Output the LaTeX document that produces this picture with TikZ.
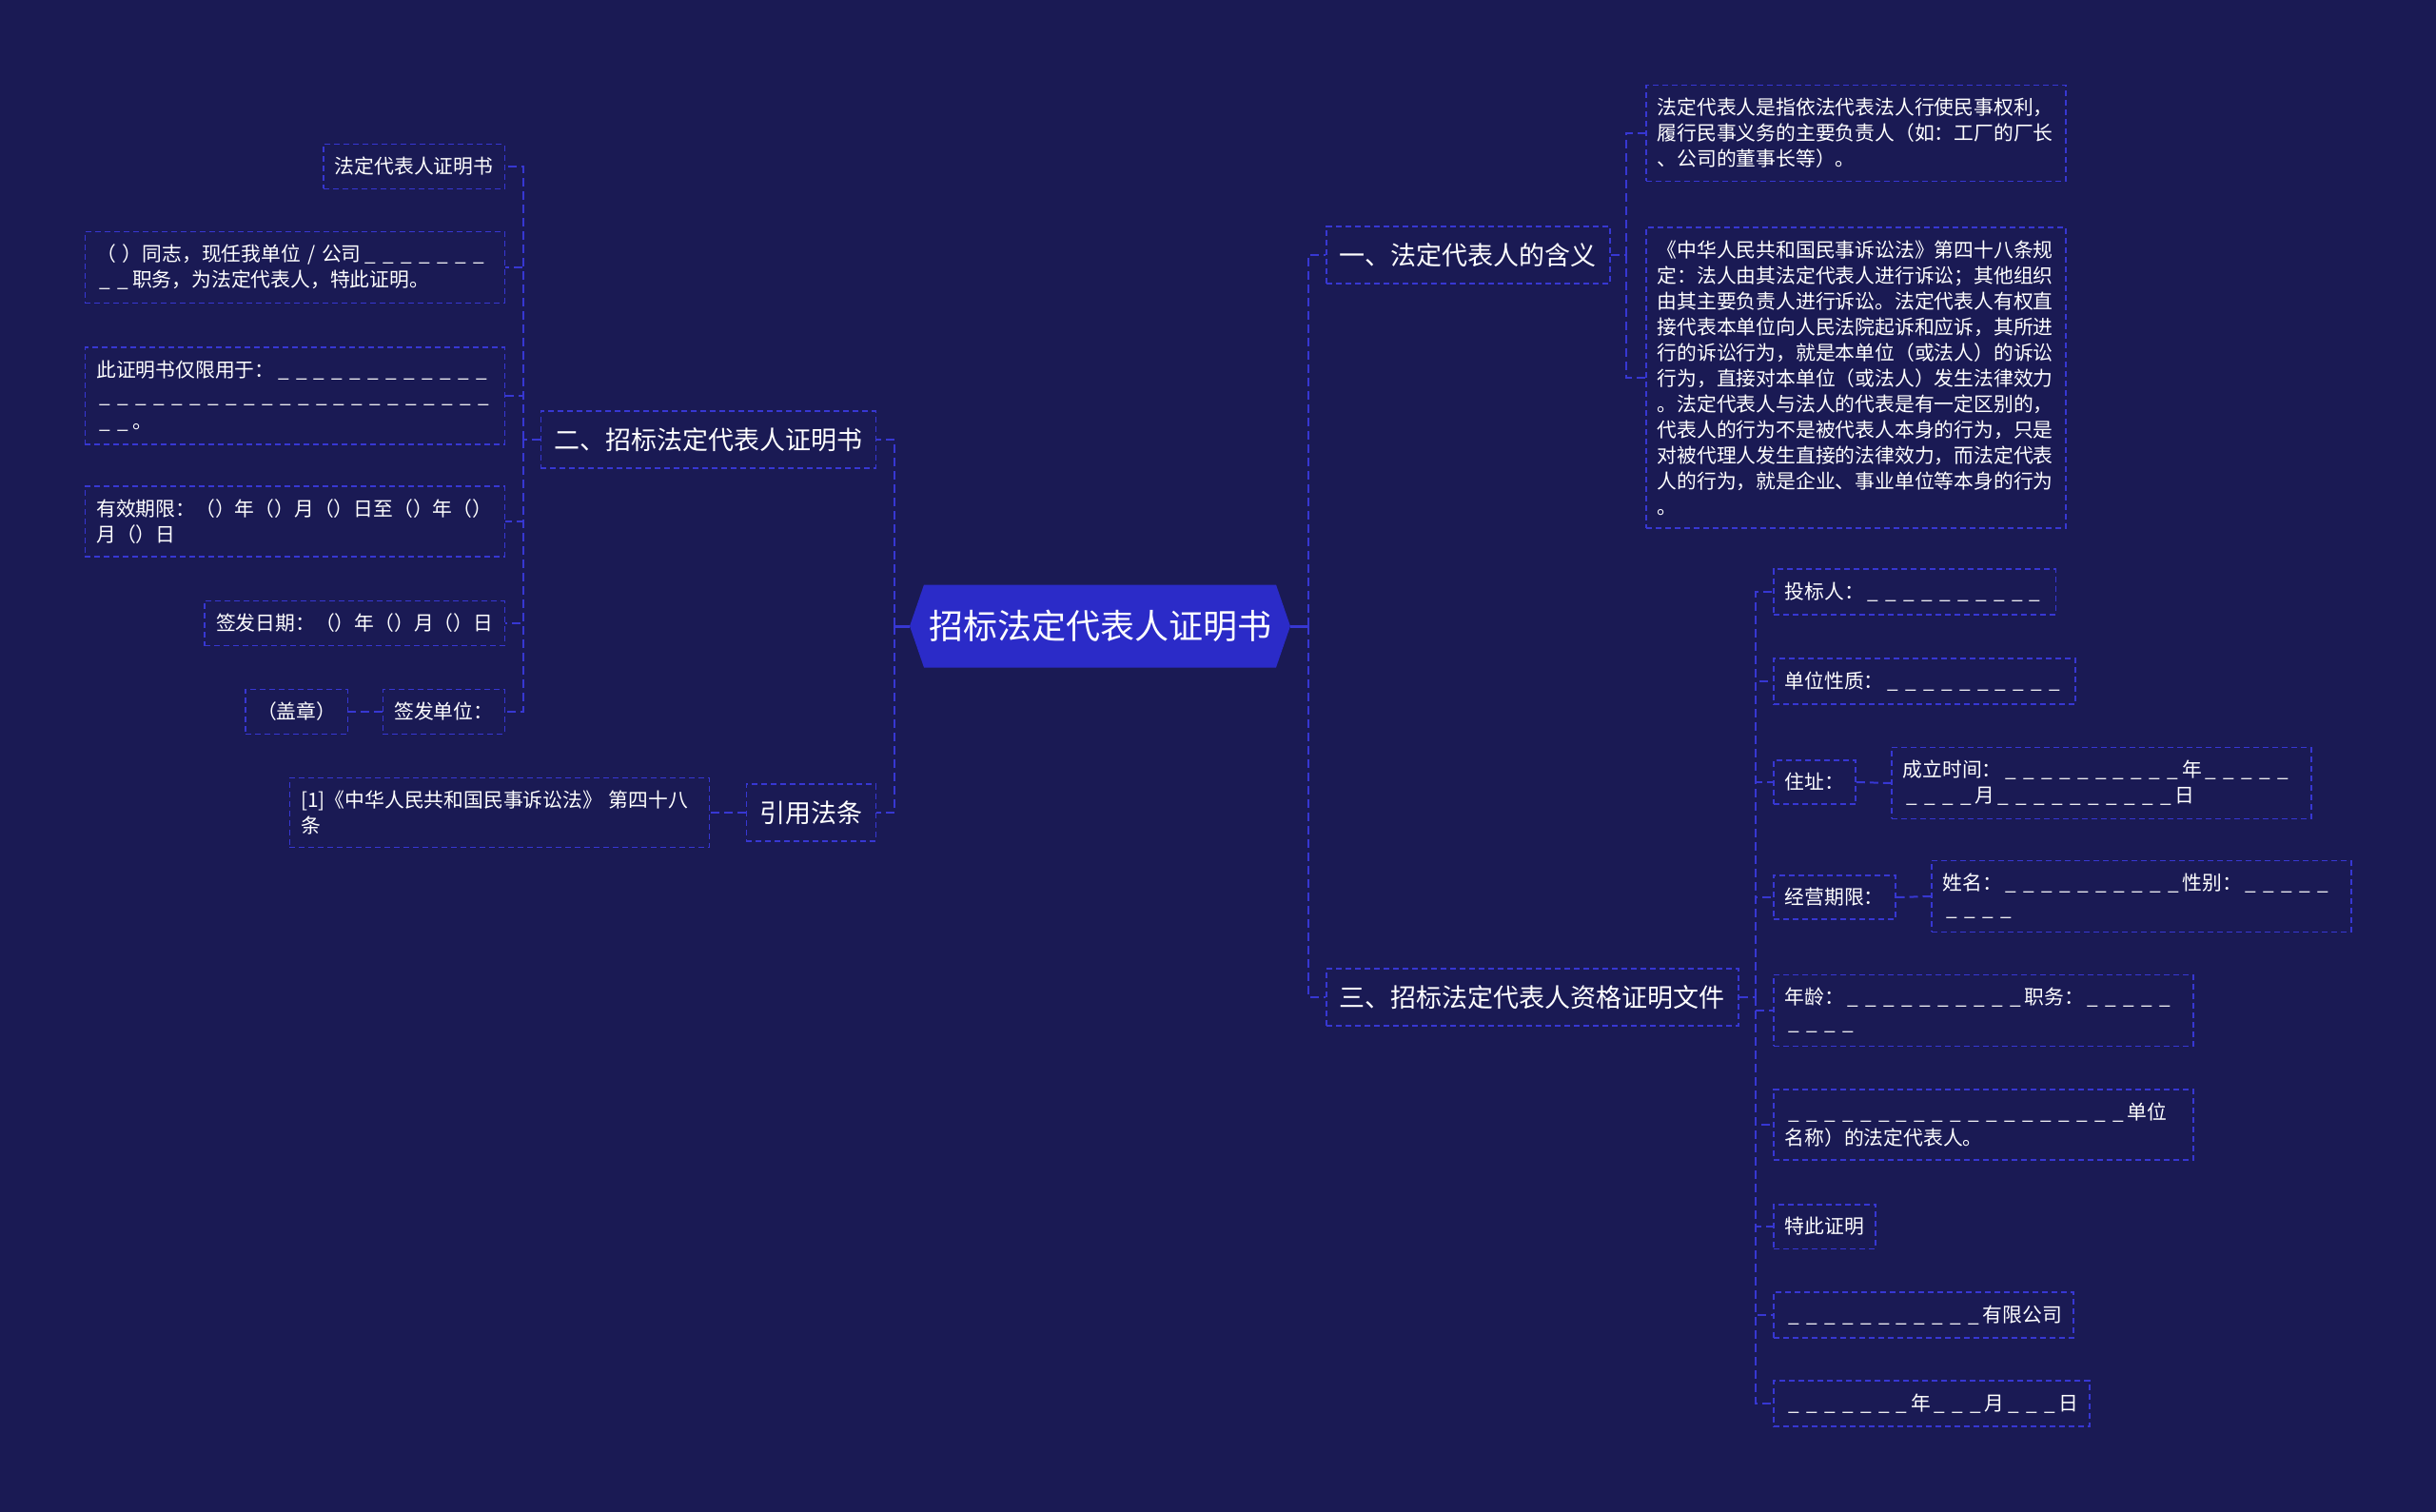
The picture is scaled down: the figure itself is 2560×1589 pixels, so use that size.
\documentclass[tikz,border=0pt]{standalone}
\usepackage{fontspec}
\usepackage{tikz}
\usetikzlibrary{shapes.symbols}
\newfontfamily\cjk{Noto Sans CJK SC}
\definecolor{bgnavy}{RGB}{26,26,84}
\definecolor{rootblue}{RGB}{43,43,200}
\definecolor{edgeblue}{RGB}{55,55,210}
% a run of blanks to fill in
\newcommand{\bl}[1]{\foreach \k in {1,...,#1}{\makebox[0.91em]{\_}}}

\begin{document}
\begin{tikzpicture}[x=0.5pt, y=-0.5pt,
    leaf/.style={draw=edgeblue, line width=0.75pt, dash pattern=on 3pt off 2pt,
      text=white, font=\cjk\fontsize{10.4}{13.5}\selectfont, align=left,
      inner xsep=6pt, inner ysep=6.8pt},
    wide/.style={leaf, text width=208.5pt},
    branch/.style={leaf, font=\cjk\fontsize{13.5}{16}\selectfont,
      inner xsep=7pt, inner ysep=8.7pt},
    root/.style={signal, signal to=west and east, signal pointer angle=142,
      fill=rootblue, text=white, font=\cjk\fontsize{18}{20}\selectfont,
      inner xsep=2.5pt, minimum height=43.5pt},
    link/.style={edgeblue, line width=1pt, dash pattern=on 4.5pt off 2.5pt},
    stub/.style={edgeblue, line width=1.5pt}]
  \fill[bgnavy] (0,0) rectangle (2560,1589);

  % centre and main branches
  \node[root] (root) at (1156,658) {招标法定代表人证明书};
  \node[branch, anchor=west] (b1) at (1393,268) {一、法定代表人的含义};
  \node[branch, anchor=west] (b3) at (1393,1048) {三、招标法定代表人资格证明文件};
  \node[branch, anchor=east] (b2) at (921,462) {二、招标法定代表人证明书};
  \node[branch, anchor=east] (b4) at (921,854) {引用法条};

  % 一
  \node[wide, anchor=west] (d1) at (1729,140) {法定代表人是指依法代表法人行使民事权利，\\履行民事义务的主要负责人（如：工厂的厂长\\、公司的董事长等）。};
  \node[wide, anchor=west] (d2) at (1729,397) {《中华人民共和国民事诉讼法》第四十八条规\\定：法人由其法定代表人进行诉讼；其他组织\\由其主要负责人进行诉讼。法定代表人有权直\\接代表本单位向人民法院起诉和应诉，其所进\\行的诉讼行为，就是本单位（或法人）的诉讼\\行为，直接对本单位（或法人）发生法律效力\\。法定代表人与法人的代表是有一定区别的，\\代表人的行为不是被代表人本身的行为，只是\\对被代理人发生直接的法律效力，而法定代表\\人的行为，就是企业、事业单位等本身的行为\\。};

  % 三
  \node[leaf, anchor=west] (q1) at (1863,622) {投标人：\bl{10}};
  \node[leaf, anchor=west] (q2) at (1863,716) {单位性质：\bl{10}};
  \node[leaf, anchor=west] (q3) at (1863,822) {住址：};
  \node[wide, anchor=west] (q3a) at (1987,823) {成立时间：\bl{10}年\bl{5}\\\bl{4}月\bl{10}日};
  \node[leaf, anchor=west] (q4) at (1863,943) {经营期限：};
  \node[wide, anchor=west] (q4a) at (2029,942) {姓名：\bl{10}性别：\bl{5}\\\bl{4}};
  \node[wide, anchor=west] (q5) at (1863,1062) {年龄：\bl{10}职务：\bl{5}\\\bl{4}};
  \node[wide, anchor=west] (q6) at (1863,1182) {\bl{19}单位\\名称）的法定代表人。};
  \node[leaf, anchor=west] (q7) at (1863,1289) {特此证明};
  \node[leaf, anchor=west] (q8) at (1863,1382) {\bl{11}有限公司};
  \node[leaf, anchor=west] (q9) at (1863,1475) {\bl{7}年\bl{3}月\bl{3}日};

  % 二
  \node[leaf, anchor=east] (p1) at (531,175) {法定代表人证明书};
  \node[wide, anchor=east] (p2) at (531,281) {（ ）同志，现任我单位 / 公司\bl{7}\\\bl{2}职务，为法定代表人，特此证明。};
  \node[wide, anchor=east] (p3) at (531,416) {此证明书仅限用于：\bl{12}\\\bl{22}\\\bl{2}。};
  \node[wide, anchor=east] (p4) at (531,548) {有效期限：（）年（）月（）日至（）年（）\\月（）日};
  \node[leaf, anchor=east] (p5) at (531,655) {签发日期：（）年（）月（）日};
  \node[leaf, anchor=east] (p6) at (531,748) {签发单位：};
  \node[leaf, anchor=east] (p6a) at (366,748) {（盖章）};

  % 引用法条
  \node[wide, anchor=east] (c1) at (746,854) {[1]《中华人民共和国民事诉讼法》 第四十八\\条};

  % connectors
  \coordinate (rR) at (1375,658);
  \coordinate (rL) at (940,658);
  \coordinate (k1) at (1709,268);
  \coordinate (k3) at (1845,1048);
  \coordinate (k2) at (550,462);
  \coordinate (k4) at (765,854);
  \draw[stub] (root.east) -- (rR);
  \draw[stub] (root.west) -- (rL);
  \draw[link] (rR) |- (b1.west);
  \draw[link] (rR) |- (b3.west);
  \draw[link] (rL) |- (b2.east);
  \draw[link] (rL) |- (b4.east);
  \draw[link] (b1.east) -- (k1);
  \foreach \n in {d1,d2} \draw[link] (k1) |- (\n.west);
  \draw[link] (b3.east) -- (k3);
  \foreach \n in {q1,q2,q3,q4,q5,q6,q7,q8,q9} \draw[link] (k3) |- (\n.west);
  \draw[link] (q3.east) -- (q3a.west);
  \draw[link] (q4.east) -- (q4a.west);
  \draw[link] (b2.west) -- (k2);
  \foreach \n in {p1,p2,p3,p4,p5,p6} \draw[link] (k2) |- (\n.east);
  \draw[link] (p6.west) -- (p6a.east);
  \draw[link] (b4.west) -- (k4) -- (c1.east);
\end{tikzpicture}
\end{document}
